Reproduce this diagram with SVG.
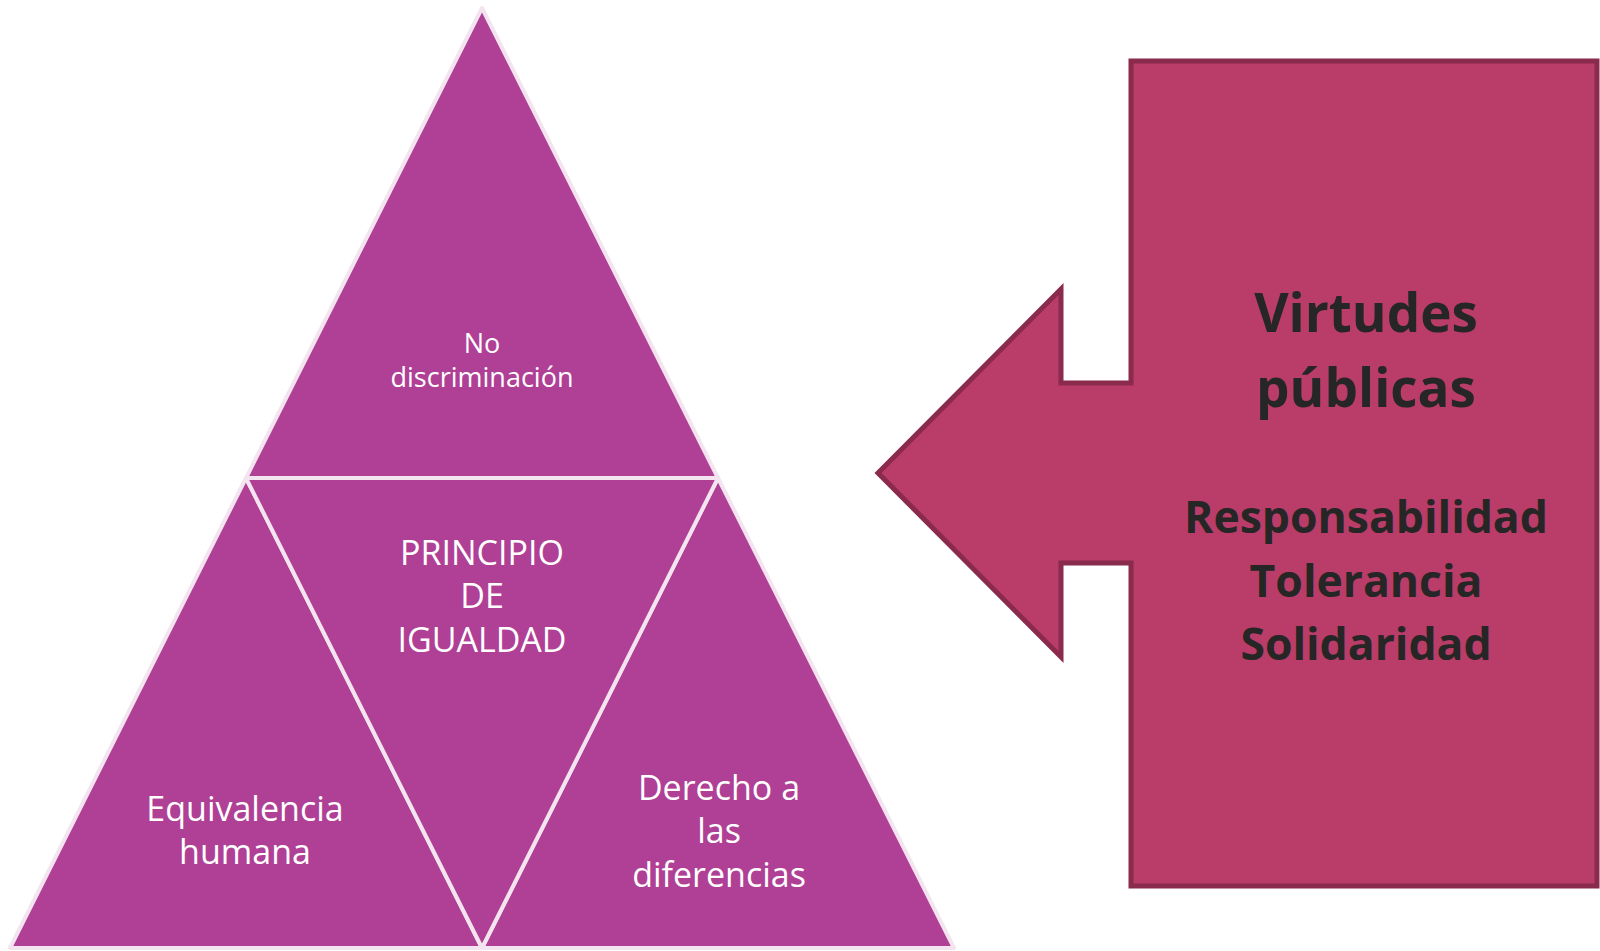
<svg xmlns="http://www.w3.org/2000/svg" width="1600" height="951" viewBox="0 0 1600 951">
<style>
.tri{fill:#B03F96;stroke:#F3E4EF;stroke-width:4;stroke-linejoin:round}
.wt{fill:#FFFFFF;font-family:"Open Sans","Liberation Sans",sans-serif;text-anchor:middle}
.bt{fill:#262626;font-family:"Open Sans","Liberation Sans",sans-serif;font-weight:bold;text-anchor:middle}
.call{fill:#B93D68;stroke:#8A2A4C;stroke-width:5;stroke-linejoin:miter}
</style>
<rect width="1600" height="951" fill="#FFFFFF"/>
<g id="top-triangle">
<polygon class="tri" points="482,8 246,478 718,478"/>
<text class="wt" font-size="27" x="482" y="353">No</text>
<text class="wt" font-size="27" x="482" y="387">discriminación</text>
</g>
<g id="left-triangle">
<polygon class="tri" points="246,478 10,948 482,948"/>
<text class="wt" font-size="34" x="245" y="821">Equivalencia</text>
<text class="wt" font-size="34" x="245" y="864">humana</text>
</g>
<g id="right-triangle">
<polygon class="tri" points="718,478 482,948 954,948"/>
<text class="wt" font-size="34" x="719" y="800">Derecho a</text>
<text class="wt" font-size="34" x="719" y="843">las</text>
<text class="wt" font-size="34" x="719" y="887">diferencias</text>
</g>
<g id="center-triangle">
<polygon class="tri" points="246,478 718,478 482,948"/>
<text class="wt" font-size="34" x="482" y="565">PRINCIPIO</text>
<text class="wt" font-size="34" x="482" y="608">DE</text>
<text class="wt" font-size="34" x="482" y="652">IGUALDAD</text>
</g>
<g id="connectors"></g>
<g id="virtudes-callout">
<path class="call" d="M1131,61 H1597 V886 H1131 V563 H1061 V657 L878,473 L1061,289 V383 H1131 Z"/>
<text class="bt" font-size="53" x="1366" y="332">Virtudes</text>
<text class="bt" font-size="53" x="1366" y="407">públicas</text>
<text class="bt" font-size="44.5" x="1366" y="533">Responsabilidad</text>
<text class="bt" font-size="44.5" x="1366" y="597">Tolerancia</text>
<text class="bt" font-size="44.5" x="1366" y="660">Solidaridad</text>
</g>
</svg>
